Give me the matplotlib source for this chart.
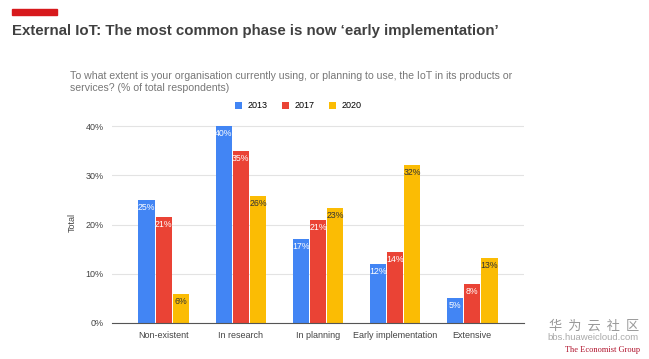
import numpy as np
import matplotlib.pyplot as plt

categories = ["Non-existent", "In research", "In planning", "Early implementation", "Extensive"]
years = ["2013", "2017", "2020"]
v2013 = [25, 40, 17, 12, 5]
v2017 = [21.5, 35, 21, 14.4, 8]
v2020 = [5.9, 25.8, 23.4, 32, 13.2]
labels2013 = ["25%", "40%", "17%", "12%", "5%"]
labels2017 = ["21%", "35%", "21%", "14%", "8%"]
labels2020 = ["6%", "26%", "23%", "32%", "13%"]
yticks = [0, 10, 20, 30, 40]

colors = ["#4285F4", "#EA4335", "#FBBC04"]
txt_colors = ["white", "white", "#333333"]
FONT = "Liberation Sans"

fig = plt.figure(figsize=(6.49, 3.59), dpi=100)
fig.patch.set_facecolor("white")

# red mark + title
fig.patches.append(plt.Rectangle((12 / 649, 1 - 15 / 359), 45 / 649, 6 / 359,
                                 transform=fig.transFigure, color="#D7191C"))
fig.text(12 / 649, 1 - 31 / 359, "External IoT: The most common phase is now \u2018early implementation\u2019",
         fontsize=10.8, fontweight="bold", color="#404040", va="center", family=FONT)
fig.text(70 / 649, 1 - 82 / 359,
         "To what extent is your organisation currently using, or planning to use, the IoT in its products or\nservices? (% of total respondents)",
         fontsize=7.6, color="#777777", va="center", linespacing=1.35, family=FONT)

ax = fig.add_axes([112 / 649, 36 / 359, 412 / 649, 41 * 4.925 / 359])
x = np.arange(len(categories))
w = 0.21
series = [v2013, v2017, v2020]
lbls = [labels2013, labels2017, labels2020]
for i, (vals, lab) in enumerate(zip(series, lbls)):
    pos = x + (i - 1) * (w + 0.012)
    bars = ax.bar(pos, vals, width=w, color=colors[i], label=years[i], zorder=3)
    for b, t in zip(bars, lab):
        ax.text(b.get_x() + b.get_width() / 2, b.get_height() - 0.6, t, ha="center", va="top",
                fontsize=6.3, color=txt_colors[i], zorder=4, family=FONT)

ax.set_xlim(-0.67, 4.67)
ax.set_ylim(0, 41)
ax.set_yticks(yticks)
ax.set_yticklabels([f"{t}%" for t in yticks])
ax.set_xticks(x)
ax.set_xticklabels(categories)
ax.tick_params(length=0, labelsize=6.5, colors="#444444", pad=6)
for lab in ax.get_xticklabels() + ax.get_yticklabels():
    lab.set_family(FONT)
ax.grid(axis="y", color="#e3e3e3", linewidth=0.8, zorder=0)
for s in ["top", "right", "left"]:
    ax.spines[s].set_visible(False)
ax.spines["bottom"].set_color("#555555")
ax.spines["bottom"].set_zorder(5)
ax.set_ylabel("Total", fontsize=6.5, color="#444444", labelpad=6, family=FONT)

ax.legend(loc="center", bbox_to_anchor=(298 / 649, 1 - 106 / 359), bbox_transform=fig.transFigure,
          ncol=3, frameon=False, handlelength=0.8, handleheight=0.8,
          columnspacing=1.6, handletextpad=0.6, prop={"family": FONT, "size": 6.5})

# watermark
fig.text(594 / 649, 1 - 326 / 359, "\u534e  \u4e3a  \u4e91  \u793e  \u533a", fontsize=9.5, color="#999999",
         ha="center", va="center", family="Noto Sans CJK SC")
fig.text(593 / 649, 1 - 338 / 359, "bbs.huaweicloud.com", fontsize=6.8, color="#aaaaaa",
         ha="center", va="center", family=FONT)
fig.text(603 / 649, 1 - 350 / 359, "The Economist Group", fontsize=6, color="#B0102A",
         ha="center", va="center", family="Liberation Serif")

fig.savefig("out.png", dpi=100, facecolor="white")
